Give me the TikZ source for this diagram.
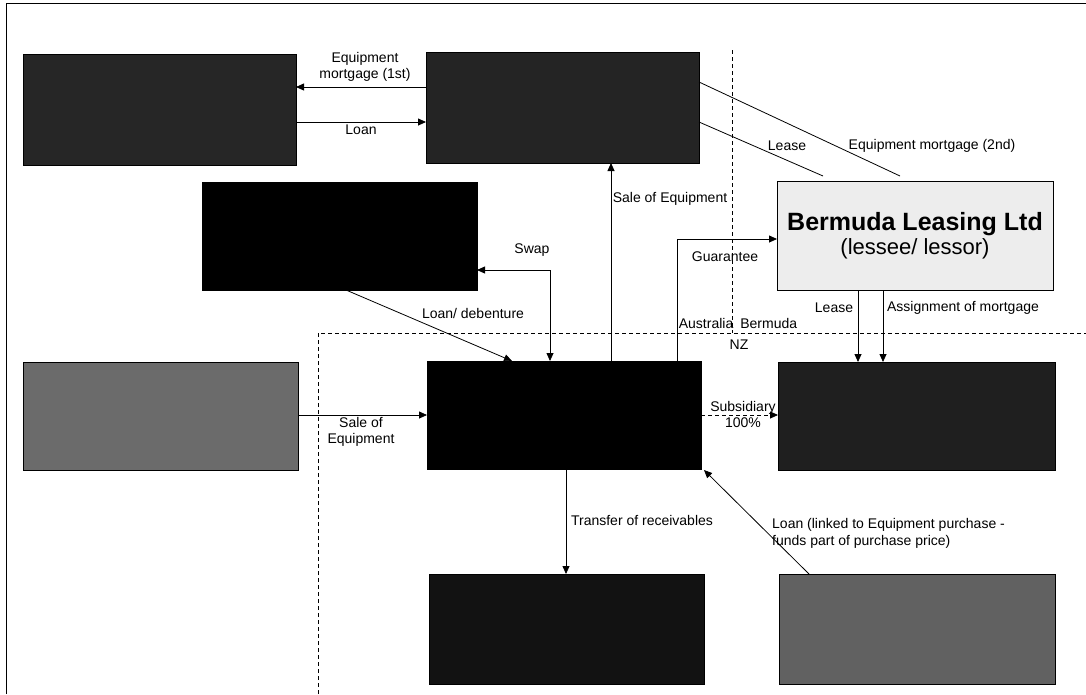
\documentclass[tikz,border=0pt]{standalone}
\usepackage{fontspec}
\setmainfont{Liberation Sans}
\usetikzlibrary{arrows.meta}
\begin{document}
\begin{tikzpicture}[x=1pt,y=-1pt,
  box/.style={draw=black,line width=0.8pt,inner sep=0pt,outer sep=0pt,anchor=center},
  conn/.style={draw=black,line width=0.8pt},
  arr/.style={conn,-{Triangle[length=8pt,width=7pt]}},
  arrboth/.style={conn,{Triangle[length=8pt,width=7pt]}-{Triangle[length=8pt,width=7pt]}},
  region/.style={draw=black,line width=0.8pt,dash pattern=on 4pt off 3pt},
  lbl/.style={font=\fontsize{14}{16}\selectfont,inner sep=0pt,align=center},
  lbll/.style={font=\fontsize{14}{17}\selectfont,inner sep=0pt,align=left,anchor=west}]
\useasboundingbox (0,0) rectangle (1086,694);
\fill[white] (0,0) rectangle (1086,694);
% frame
\draw[line width=1pt] (6,694) -- (6,3) -- (1086,3);
% region boundaries
\draw[region] (732,50) -- (732,333);
\draw[region] (318,694) -- (318,333) -- (1086,333);
% boxes
\node[box,fill=black!85,minimum width=273pt,minimum height=111pt] (tl) at (159.5,109.5) {};
\node[box,fill=black!86,minimum width=273pt,minimum height=111pt] (tm) at (562.5,107.5) {};
\node[box,fill=black,minimum width=275pt,minimum height=108pt] (bk) at (339.5,236) {};
\node[box,fill=black!7,minimum width=276pt,minimum height=109pt,align=center] (bl) at (915,235.5)
  {{\fontsize{25}{30}\selectfont\bfseries Bermuda Leasing Ltd}\\[2pt]{\fontsize{22}{26}\selectfont (lessee/ lessor)}};
\node[box,fill=black!58,minimum width=275pt,minimum height=108pt] (lm) at (160.5,416) {};
\node[box,fill=black,minimum width=274pt,minimum height=108pt] (ce) at (564,415) {};
\node[box,fill=black!88,minimum width=277pt,minimum height=108pt] (rm) at (916.5,416) {};
\node[box,fill=black!93,minimum width=275pt,minimum height=110pt] (bc) at (566.5,629) {};
\node[box,fill=black!62,minimum width=276pt,minimum height=110pt] (br) at (917,629) {};
% connectors
\draw[arr] ([yshift=20.5pt]tm.west) -- ([yshift=22.5pt]tl.east);
\draw[arr] ([yshift=-12.5pt]tl.east) -- ([yshift=-14.5pt]tm.west);
\draw[conn] ([yshift=-14.5pt]tm.east) -- ([xshift=-92pt,yshift=5pt]bl.north);
\draw[conn] ([yshift=25.5pt]tm.east) -- ([xshift=-15pt,yshift=5pt]bl.north);
\draw[arr] ([xshift=47pt]ce.north) -- ([xshift=48.5pt]tm.south);
\draw[arrboth] ([yshift=-34pt]bk.east) -| ([xshift=-14pt]ce.north);
\draw[arr] ([xshift=6.5pt]bk.south) -- ([xshift=-52pt]ce.north);
\draw[arr] ([xshift=113pt]ce.north) |- ([yshift=-3.5pt]bl.west);
\draw[arr] ([xshift=-57pt]bl.south) -- ([xshift=-58.5pt]rm.north);
\draw[arr] ([xshift=-32pt]bl.south) -- ([xshift=-33.5pt]rm.north);
\draw[arr] ([yshift=1pt]lm.east) -- (ce.west);
\draw[arr,dash pattern=on 4pt off 3pt] (ce.east) -- ([yshift=1pt]rm.west);
\draw[arr] ([xshift=2pt]ce.south) -- ([xshift=-0.5pt]bc.north);
\draw[arr] ([xshift=-108pt]br.north) -- ([xshift=3pt,yshift=-1pt]ce.south east);
% labels
\node[lbl] (l1) at (365,67) {Equipment\\mortgage (1st)};
\node[lbl] (l2) at (361,130) {Loan};
\node[lbl] (l3) at (787,146) {Lease};
\node[lbl] (l4) at (932,146) {Equipment mortgage (2nd)};
\node[lbl] (l5) at (670,199) {Sale of Equipment};
\node[lbl] (l6) at (532,250) {Swap};
\node[lbl] (l7) at (725,257) {Guarantee};
\node[lbl] (l8) at (834,308) {Lease};
\node[lbl] (l9) at (963,308) {Assignment of mortgage};
\node[lbl] (l10) at (473,313) {Loan/ debenture};
\node[lbl] (l11) at (738,323) {Australia\enspace Bermuda};
\node[lbl] (l12) at (739,345) {NZ};
\node[lbl] (l13) at (361,432) {Sale of\\Equipment};
\node[lbl] (l14) at (743,414) {Subsidiary\\100\%};
\node[lbl] (l15) at (642,520) {Transfer of receivables};
\node[lbll] (l16) at (772,533) {Loan (linked to Equipment purchase -\\funds part of purchase price)};
\end{tikzpicture}
\end{document}
